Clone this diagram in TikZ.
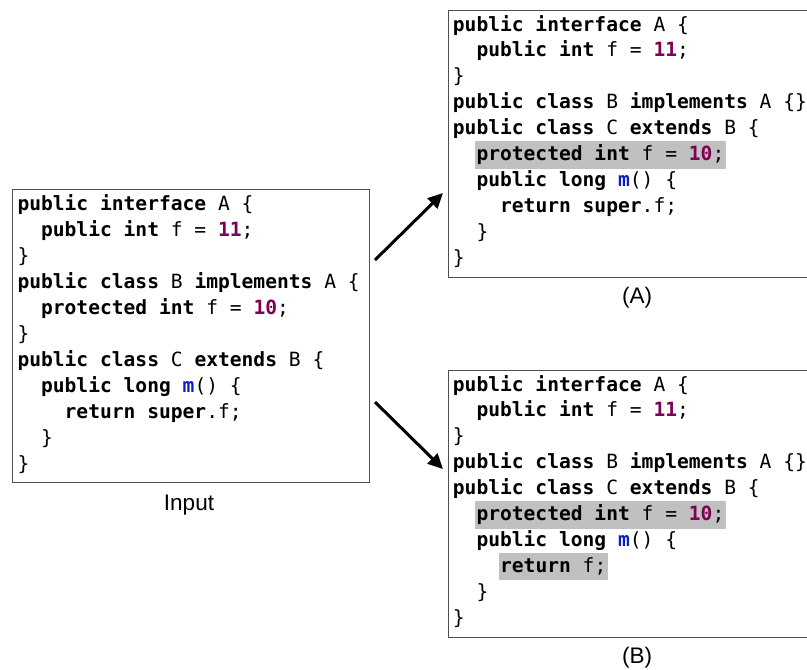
\documentclass[tikz,border=0pt]{standalone}
\usepackage{fontspec}
\setmainfont{Liberation Sans}
\setmonofont{DejaVu Sans Mono}
\usetikzlibrary{arrows.meta}

\definecolor{numpurple}{RGB}{127,0,85}
\definecolor{methblue}{RGB}{10,30,190}
\definecolor{hlgray}{RGB}{192,192,192}
\definecolor{frame}{RGB}{80,80,80}

% Java syntax colouring
\newcommand{\kw}[1]{\textbf{#1}}
\newcommand{\lit}[1]{\textcolor{numpurple}{\textbf{#1}}}
\newcommand{\meth}[1]{\textcolor{methblue}{\textbf{#1}}}

% one source line: [extra style] name, left x, indent (chars), baseline y, text
\newcommand{\codeln}[6][]{\node[code,#1] (#2) at ({#3+#4*11.8},{#5}) {#6};}

\begin{document}
\begin{tikzpicture}[x=1pt,y=-1pt,
  codebox/.style={draw=frame,line width=1.2pt,anchor=north west,inner sep=0pt},
  code/.style={anchor=base west,inner sep=0pt,font=\fontsize{19.6}{24}\ttfamily},
  hl/.style={fill=hlgray,inner xsep=1.5pt,inner ysep=0pt,text height=19.5pt,text depth=8pt,xshift=-1.5pt},
  caption/.style={anchor=base,inner sep=0pt,font=\fontsize{22.5}{27}\selectfont},
  link/.style={line width=3pt,-{Triangle[length=15pt,width=14pt]}}]

\useasboundingbox (0,0) rectangle (807,670);

% frames
\node[codebox,minimum width=357pt,minimum height=293pt] (input) at (12,189) {};
\node[codebox,minimum width=378pt,minimum height=267pt] (boxA) at (448,10) {};
\node[codebox,minimum width=378pt,minimum height=267pt] (boxB) at (448,370) {};

% input program
\codeln{i1}{17.3}{0}{210}{\kw{public interface} A \{}
\codeln{i2}{17.3}{2}{236}{\kw{public int} f = \lit{11};}
\codeln{i3}{17.3}{0}{262}{\}}
\codeln{i4}{17.3}{0}{288}{\kw{public class} B \kw{implements} A \{}
\codeln{i5}{17.3}{2}{314}{\kw{protected int} f = \lit{10};}
\codeln{i6}{17.3}{0}{340}{\}}
\codeln{i7}{17.3}{0}{366}{\kw{public class} C \kw{extends} B \{}
\codeln{i8}{17.3}{2}{392}{\kw{public long} \meth{m}() \{}
\codeln{i9}{17.3}{4}{418}{\kw{return super}.f;}
\codeln{i10}{17.3}{2}{444}{\}}
\codeln{i11}{17.3}{0}{470}{\}}

% variant (A)
\codeln{a1}{452.7}{0}{31}{\kw{public interface} A \{}
\codeln{a2}{452.7}{2}{56.9}{\kw{public int} f = \lit{11};}
\codeln{a3}{452.7}{0}{82.8}{\}}
\codeln{a4}{452.7}{0}{108.7}{\kw{public class} B \kw{implements} A \{\}}
\codeln{a5}{452.7}{0}{134.6}{\kw{public class} C \kw{extends} B \{}
\codeln[hl]{a6}{452.7}{2}{160.5}{\kw{protected int} f = \lit{10};}
\codeln{a7}{452.7}{2}{186.4}{\kw{public long} \meth{m}() \{}
\codeln{a8}{452.7}{4}{212.3}{\kw{return super}.f;}
\codeln{a9}{452.7}{2}{238.2}{\}}
\codeln{a10}{452.7}{0}{264.1}{\}}

% variant (B)
\codeln{b1}{452.7}{0}{391}{\kw{public interface} A \{}
\codeln{b2}{452.7}{2}{416.9}{\kw{public int} f = \lit{11};}
\codeln{b3}{452.7}{0}{442.8}{\}}
\codeln{b4}{452.7}{0}{468.7}{\kw{public class} B \kw{implements} A \{\}}
\codeln{b5}{452.7}{0}{494.6}{\kw{public class} C \kw{extends} B \{}
\codeln[hl]{b6}{452.7}{2}{520.5}{\kw{protected int} f = \lit{10};}
\codeln{b7}{452.7}{2}{546.4}{\kw{public long} \meth{m}() \{}
\codeln[hl]{b8}{452.7}{4}{572.3}{\kw{return} f;}
\codeln{b9}{452.7}{2}{598.2}{\}}
\codeln{b10}{452.7}{0}{624.1}{\}}

% captions
\node[caption] (capIn) at (189,510) {Input};
\node[caption] (capA) at (637,303.5) {(A)};
\node[caption] (capB) at (637,663.5) {(B)};

% transformation arrows
\coordinate (upS) at (375,260);
\coordinate (upE) at (443,193);
\coordinate (dnS) at (375,402);
\coordinate (dnE) at (443,469);
\draw[link] (upS) -- (upE);
\draw[link] (dnS) -- (dnE);
\end{tikzpicture}
\end{document}
